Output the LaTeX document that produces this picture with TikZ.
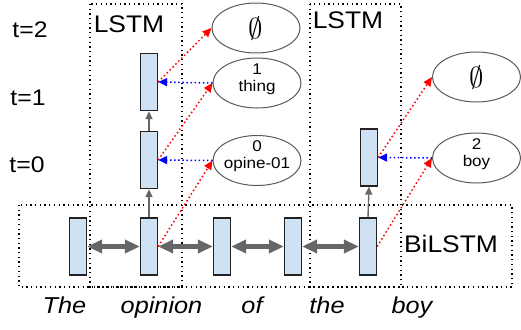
\documentclass[tikz,border=0pt]{standalone}
\usepackage{fontspec}
\setmainfont[FakeStretch=1.1]{Liberation Sans}
\usetikzlibrary{arrows.meta,shapes.geometric}
\definecolor{cellfill}{HTML}{CFE2F3}
\definecolor{cellline}{HTML}{222222}
\definecolor{ellline}{HTML}{595959}
\definecolor{flow}{HTML}{666666}
\newcommand{\twolines}[2]{\raisebox{0pt}[0pt][0pt]{\makebox[0pt]{\begin{tabular}{@{}c@{}}#1\\#2\end{tabular}}}}
\newcommand{\nullconcept}{\scalebox{2}{$\emptyset$}}
\begin{document}
\begin{tikzpicture}[x=1pt,y=-1pt,
  frame/.style={draw=black, line width=1.3pt, dash pattern=on 1.3pt off 3.4pt},
  cell/.style={draw=cellline, line width=1.3pt, fill=cellfill,
    minimum width=17pt, minimum height=57pt, inner sep=0pt},
  tok/.style={ellipse, draw=ellline, line width=1pt, minimum width=88pt,
    minimum height=50pt, inner sep=0pt,
    font=\fontsize{15.5}{17}\selectfont},
  biglabel/.style={inner sep=0pt, font=\fontsize{24}{26}\selectfont},
  steplabel/.style={inner sep=0pt, font=\fontsize{22.5}{24}\selectfont},
  word/.style={inner sep=0pt, anchor=base, font=\fontsize{23}{25}\itshape},
  bilink/.style={draw=flow, line width=4.5pt,
    {Triangle[length=15pt,width=13pt]}-{Triangle[length=15pt,width=13pt]}},
  uplink/.style={draw=flow, line width=1.4pt, -{Triangle[length=8pt,width=7pt]}},
  predict/.style={draw=red, line width=1.5pt, dash pattern=on 1.5pt off 2.6pt,
    -{Triangle[length=9pt,width=8pt]}},
  feed/.style={draw=blue, line width=1.5pt, dash pattern=on 1.5pt off 2.6pt,
    -{Triangle[length=9pt,width=8pt]}}]
\useasboundingbox (0,0) rectangle (521,329);

% dotted frames: two LSTM decoders and the BiLSTM encoder
\draw[frame] (90,4) rectangle (182,287);
\draw[frame] (310,4) rectangle (401,287);
\draw[frame] (19,205) rectangle (512,287);

% encoder cells
\node[cell] (w1) at (78,246.5) {};
\node[cell] (w2) at (149,246.5) {};
\node[cell] (w3) at (222,246.5) {};
\node[cell] (w4) at (293,246.5) {};
\node[cell] (w5) at (368,246.5) {};

% decoder cells
\node[cell] (a0) at (149,160) {};
\node[cell] (a1) at (149,82) {};
\node[cell] (b0) at (369,157.5) {};

% concept nodes
\node[tok] (e2) at (256,28) {\nullconcept};
\node[tok] (e1) at (257,83) {\twolines{1}{thing}};
\node[tok] (e0) at (257,160.5) {\twolines{0}{opine-01}};
\node[tok] (f1) at (476.5,77) {\nullconcept};
\node[tok] (f0) at (476.5,158) {\twolines{2}{boy}};

% labels
\node[steplabel] (t2) at (30,30) {t=2};
\node[steplabel] (t1) at (28,98) {t=1};
\node[steplabel] (t0) at (27,165) {t=0};
\node[biglabel] (lstmA) at (129,24) {LSTM};
\node[biglabel] (lstmB) at (348,20) {LSTM};
\node[biglabel] (bilstm) at (451,244) {BiLSTM};

% input words
\node[word] (x1) at (64.5,313) {The};
\node[word] (x2) at (161.5,313) {opinion};
\node[word] (x3) at (252,313) {of};
\node[word] (x4) at (327,313) {the};
\node[word] (x5) at (412,313) {boy};

% bidirectional encoder links
\draw[bilink] (w1.east) -- (w2.west);
\draw[bilink] (w2.east) -- (w3.west);
\draw[bilink] (w3.east) -- (w4.west);
\draw[bilink] (w4.east) -- (w5.west);

% decoder recurrences
\draw[uplink] (w2.north) -- (a0.south);
\draw[uplink] (a0.north) -- (a1.south);
\draw[uplink] (w5.north) -- (b0.south);

% predictions
\draw[predict] (w2.east) -- (e0.west);
\draw[predict] (a0.east) -- (e1.west);
\draw[predict] (a1.east) -- (e2.west);
\draw[predict] (w5.east) -- (f0.west);
\draw[predict] (b0.east) -- (f1.west);

% predicted concepts fed back
\draw[feed] (e0.west) -- (a0.east);
\draw[feed] (e1.west) -- (a1.east);
\draw[feed] (f0.west) -- (b0.east);
\end{tikzpicture}
\end{document}
